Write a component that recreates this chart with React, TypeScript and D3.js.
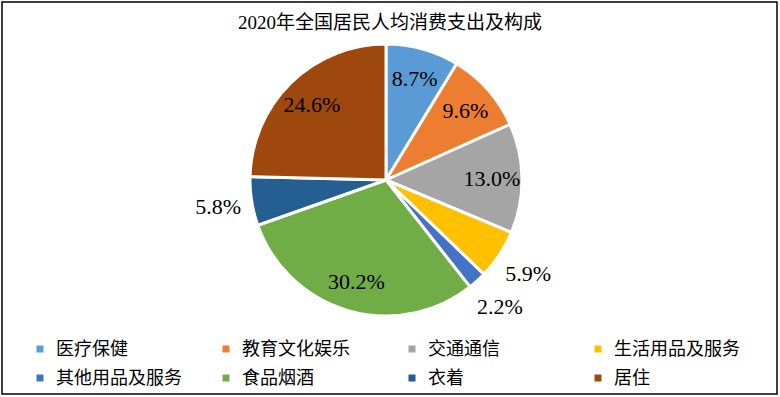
import React, { useRef, useEffect } from 'react'
import * as d3 from 'd3'

const categories = ['医疗保健', '教育文化娱乐', '交通通信', '生活用品及服务', '其他用品及服务', '食品烟酒', '衣着', '居住']
const shares = [8.7, 9.6, 13.0, 5.9, 2.2, 30.2, 5.8, 24.6]
const colors = ['#5B9BD5', '#ED7D31', '#A5A5A5', '#FFC000', '#4472C4', '#70AD47', '#255E91', '#9E480E']
const outsideLabels = ['生活用品及服务', '其他用品及服务', '衣着']
const title = '2020年全国居民人均消费支出及构成'

const W = 780
const H = 397
const FONT = '"Times New Roman", "Liberation Serif", "Noto Sans CJK SC", serif'

export default function App() {
  const ref = useRef<SVGSVGElement>(null)

  useEffect(() => {
    const svg = d3.select(ref.current)
    svg.selectAll('*').remove()

    svg.append('rect')
      .attr('x', 2).attr('y', 2)
      .attr('width', W - 5).attr('height', H - 5)
      .attr('fill', '#fff')
      .attr('stroke', '#000')
      .attr('stroke-width', 1.5)

    svg.append('text')
      .attr('x', 390).attr('y', 29)
      .attr('text-anchor', 'middle')
      .attr('font-family', FONT)
      .attr('font-size', 19)
      .attr('fill', '#000')
      .text(title)

    const cx = 386, cy = 180, R = 136
    const data = categories.map((c, i) => ({ name: c, value: shares[i], color: colors[i] }))

    const pie = d3.pie<any>().value(d => d.value).sort(null)
    const arcs = pie(data)
    const arc = d3.arc<any>().innerRadius(0).outerRadius(R)
    const inLabel = d3.arc<any>().innerRadius(106).outerRadius(106)
    const outLabel = d3.arc<any>().innerRadius(170).outerRadius(170)

    const g = svg.append('g').attr('transform', `translate(${cx},${cy})`)
    g.selectAll('path')
      .data(arcs)
      .enter()
      .append('path')
      .attr('d', arc)
      .attr('fill', d => d.data.color)
      .attr('stroke', '#fff')
      .attr('stroke-width', 3)
      .attr('stroke-linejoin', 'round')

    g.selectAll('text.lbl')
      .data(arcs)
      .enter()
      .append('text')
      .attr('class', 'lbl')
      .attr('transform', d => {
        const p = outsideLabels.includes(d.data.name) ? outLabel.centroid(d) : inLabel.centroid(d)
        return `translate(${p[0]},${p[1]})`
      })
      .attr('text-anchor', 'middle')
      .attr('dy', '0.35em')
      .attr('font-family', FONT)
      .attr('font-size', 22)
      .attr('fill', '#000')
      .text(d => d.data.value.toFixed(1) + '%')

    // legend, 4 columns x 2 rows
    const colX = d3.scalePoint<number>().domain([0, 1, 2, 3]).range([40, 598])
    const rowY = d3.scalePoint<number>().domain([0, 1]).range([349, 378])
    const leg = svg.append('g')
      .selectAll('g')
      .data(data)
      .enter()
      .append('g')
      .attr('transform', (d, i) => `translate(${colX(i % 4)},${rowY(Math.floor(i / 4))})`)
    leg.append('rect')
      .attr('x', -3.5).attr('y', -3.5)
      .attr('width', 7).attr('height', 7)
      .attr('fill', d => d.color)
    leg.append('text')
      .attr('x', 16)
      .attr('dy', '0.35em')
      .attr('font-family', FONT)
      .attr('font-size', 18)
      .attr('fill', '#000')
      .text(d => d.name)
  }, [])

  return (
    <div style={{ position: 'absolute', left: 0, top: 0 }}>
      <svg ref={ref} width={W} height={H} style={{ display: 'block' }} />
    </div>
  )
}
